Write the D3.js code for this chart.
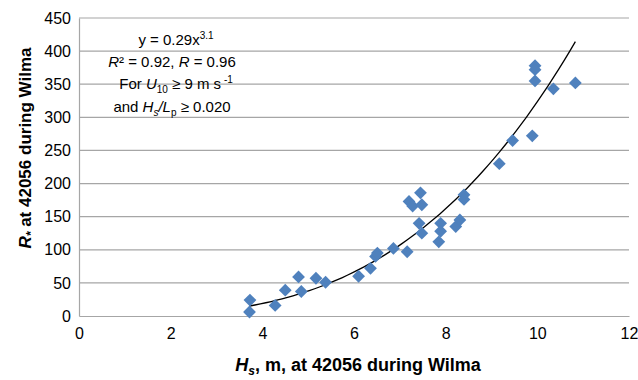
<!DOCTYPE html>
<html>
<head>
<meta charset="utf-8">
<script src="https://cdn.jsdelivr.net/npm/d3@7"></script>
<style>
  body { margin: 0; background: #fff; }
  text { font-family: "Liberation Sans", Arial, sans-serif; fill: #000; }
</style>
</head>
<body>
<div id="chart"></div>
<script>
// Hs (m) and R* values
const hs = [3.73, 3.72, 4.28, 4.50, 4.79, 4.85, 5.17, 5.38, 6.10, 6.36, 6.47, 6.51,
            6.86, 7.16, 7.20, 7.28, 7.45, 7.48, 7.42, 7.48, 7.89, 7.89, 7.85, 8.22,
            8.31, 8.40, 8.40, 9.17, 9.46, 9.89, 9.95, 9.95, 9.95, 10.35, 10.83];
const rstar = [24, 6, 16, 39, 59, 37, 57, 51, 60, 72, 90, 95,
               102, 97, 173, 166, 186, 168, 140, 125, 140, 128, 112, 135,
               145, 183, 176, 230, 265, 272, 378, 372, 355, 343, 352];
const xTicks = [0, 2, 4, 6, 8, 10, 12];
const yTicks = [0, 50, 100, 150, 200, 250, 300, 350, 400, 450];
// power trend line as drawn
const trendA = 0.257, trendB = 3.1;
const trendRange = [3.72, 10.83];

async function scatter () {
    const width = 638;
    const height = 380;
    const margin = { top: 18, right: 9, bottom: 64, left: 79 };
    const boundedwidth  = width - margin.left - margin.right;
    const boundedheight = height - margin.top - margin.bottom;

    const xScale = d3.scaleLinear().domain([0, 12]).range([0, boundedwidth]);
    const yScale = d3.scaleLinear().domain([0, 450]).range([boundedheight, 0]);

    const root = d3.select("#chart").append("svg")
        .attr("width", width)
        .attr("height", height);
    const svg = root.append('g')
        .attr('transform', 'translate(' + margin.left + ',' + margin.top + ')');

    // horizontal gridlines
    svg.append('g').selectAll('line').data(yTicks.filter(d => d > 0)).join('line')
        .attr('x1', 0).attr('x2', boundedwidth)
        .attr('y1', d => yScale(d)).attr('y2', d => yScale(d))
        .attr('stroke', '#a6a6a6').attr('stroke-width', 1.2);

    // axes
    const xAxis = svg.append('g')
        .attr('transform', 'translate(0,' + boundedheight + ')')
        .call(d3.axisBottom(xScale).tickValues(xTicks).tickSize(0).tickPadding(12));
    const yAxis = svg.append('g')
        .call(d3.axisLeft(yScale).tickValues(yTicks).tickSize(0).tickPadding(8));
    [xAxis, yAxis].forEach(a => {
        a.select('.domain').attr('stroke', '#a6a6a6').attr('stroke-width', 1.2);
        a.selectAll('text').style('font-size', '16px').attr('fill', '#000');
    });

    // trend line
    const tx = d3.range(0, 61).map(i => trendRange[0] + (trendRange[1] - trendRange[0]) * i / 60);
    const line = d3.line()
        .x(d => xScale(d))
        .y(d => yScale(trendA * Math.pow(d, trendB)));
    svg.append('path').datum(tx)
        .attr('fill', 'none')
        .attr('stroke', '#000')
        .attr('stroke-width', 1.3)
        .attr('d', line);

    // diamonds
    const diamond = d3.symbol().type(d3.symbolSquare).size(82);
    svg.append('g').selectAll('path').data(hs).join('path')
        .attr('d', diamond)
        .attr('transform', (d, i) => 'translate(' + xScale(d) + ',' + yScale(rstar[i]) + ') rotate(45)')
        .attr('fill', '#4f81bd');

    // annotation
    const note = root.append('g').style('font-size', '15px').attr('text-anchor', 'middle');
    const t1 = note.append('text').attr('x', 176).attr('y', 45);
    t1.append('tspan').text('y = 0.29x');
    t1.append('tspan').attr('dy', -6).style('font-size', '10px').text('3.1');
    const t2 = note.append('text').attr('x', 172).attr('y', 67);
    t2.append('tspan').attr('font-style', 'italic').text('R');
    t2.append('tspan').text('² = 0.92, ');
    t2.append('tspan').attr('font-style', 'italic').text('R');
    t2.append('tspan').text(' = 0.96');
    const t3 = note.append('text').attr('x', 176).attr('y', 89);
    t3.append('tspan').text('For ');
    t3.append('tspan').attr('font-style', 'italic').text('U');
    t3.append('tspan').attr('dy', 4).style('font-size', '10px').text('10');
    t3.append('tspan').attr('dy', -4).text(' ≥ 9 m s');
    t3.append('tspan').attr('dy', -6).style('font-size', '10px').text(' -1');
    const t4 = note.append('text').attr('x', 172).attr('y', 112);
    t4.append('tspan').text('and ');
    t4.append('tspan').attr('font-style', 'italic').text('H');
    t4.append('tspan').attr('dy', 4).style('font-size', '10px').attr('font-style', 'italic').text('s');
    t4.append('tspan').attr('dy', -4).attr('font-style', 'italic').text('/L');
    t4.append('tspan').attr('dy', 4).style('font-size', '10px').text('p');
    t4.append('tspan').attr('dy', -4).text(' ≥ 0.020');

    // axis titles
    const xt = root.append('text')
        .attr('x', 358).attr('y', 371)
        .attr('text-anchor', 'middle')
        .style('font-size', '18px').style('font-weight', 'bold');
    xt.append('tspan').attr('font-style', 'italic').text('H');
    xt.append('tspan').attr('dy', 4).style('font-size', '12px').attr('font-style', 'italic').text('s');
    xt.append('tspan').attr('dy', -4).text(', m, at 42056 during Wilma');

    const yt = root.append('text')
        .attr('transform', 'translate(31,' + 148 + ') rotate(-90)')
        .attr('text-anchor', 'middle')
        .style('font-size', '17px').style('font-weight', 'bold');
    yt.append('tspan').attr('font-style', 'italic').text('R');
    yt.append('tspan').attr('dy', 4).style('font-size', '12px').attr('font-style', 'italic').text('*');
    yt.append('tspan').attr('dy', -4).text(' at 42056 during Wilma');
}
scatter()
</script>
</body>
</html>
